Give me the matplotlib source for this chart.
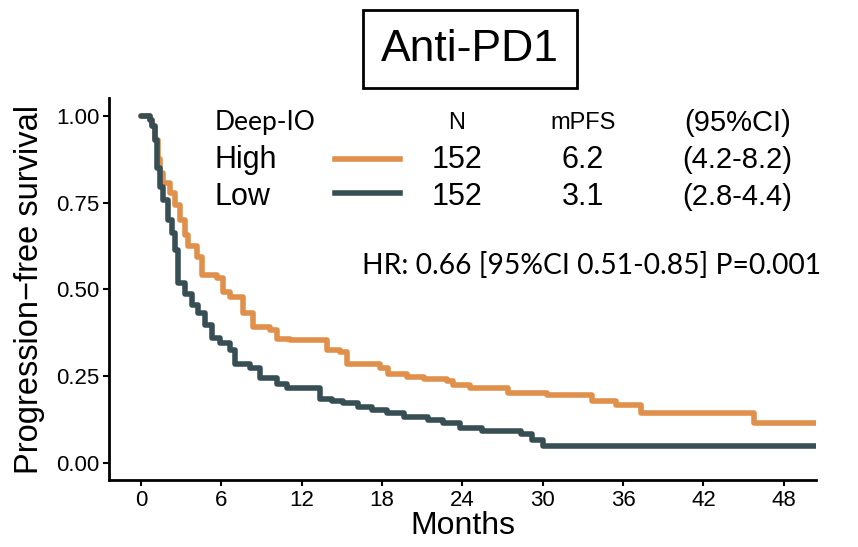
import matplotlib
matplotlib.use('Agg')
from matplotlib import pyplot as plt
from matplotlib.patches import Rectangle

# Kaplan-Meier steps (months, survival after the drop)
high_t = [0, 0.66, 0.82, 1.04, 1.27, 1.42, 1.64, 2.16, 2.54, 2.89, 3.28, 3.5, 4.18, 4.55,
          5.67, 6.12, 6.65, 7.61, 8.36, 9.63, 10.14, 11.12, 13.88, 14.85, 15.37, 17.84,
          18.45, 19.88, 21.1, 22.82, 23.28, 24.55, 27.4, 30.35, 33.7, 35.5, 37.3, 45.8, 50.4]
high_s = [1.00, 0.99, 0.97, 0.93, 0.875, 0.835, 0.806, 0.777, 0.743, 0.70, 0.656, 0.625,
          0.592, 0.540, 0.532, 0.491, 0.477, 0.431, 0.390, 0.382, 0.358, 0.353, 0.324,
          0.318, 0.286, 0.272, 0.257, 0.246, 0.240, 0.237, 0.223, 0.214, 0.202, 0.194,
          0.179, 0.165, 0.142, 0.115, 0.115]

low_t = [0, 0.66, 0.82, 1.04, 1.2, 1.42, 1.64, 2.01, 2.32, 2.54, 2.76, 3.28, 3.81, 4.26,
         4.78, 5.29, 5.89, 6.65, 7.01, 8.13, 8.88, 10.14, 10.9, 13.37, 14.28, 15.1, 16.21,
         17.23, 18.35, 19.67, 21.4, 22.52, 23.84, 25.47, 28.4, 29.2, 30.0, 50.4]
low_s = [1.00, 0.99, 0.97, 0.93, 0.85, 0.795, 0.757, 0.70, 0.662, 0.613, 0.517, 0.488,
         0.454, 0.431, 0.396, 0.361, 0.344, 0.324, 0.286, 0.272, 0.243, 0.228, 0.214,
         0.185, 0.179, 0.171, 0.162, 0.153, 0.142, 0.133, 0.124, 0.113, 0.101, 0.092,
         0.084, 0.064, 0.048, 0.048]

groups = ['High', 'Low']
n_pat = ['152', '152']
mpfs = ['6.2', '3.1']
ci = ['(4.2-8.2)', '(2.8-4.4)']
hr_text = 'HR: 0.66 [95%CI 0.51-0.85] P=0.001'

x_ticks = [0, 6, 12, 18, 24, 30, 36, 42, 48]
y_ticks = [0.00, 0.25, 0.50, 0.75, 1.00]

ORANGE = '#E0904A'
DARK = '#384E55'
HELV = 'Liberation Sans'

fig = plt.figure(figsize=(8.58, 5.47), dpi=100)
ax = fig.add_axes([0.127, 0.1225, 0.824, 0.6983])

for t, s, c in [(high_t, high_s, ORANGE), (low_t, low_s, DARK)]:
    ax.step(t, s, where='post', color=c, lw=4.0,
            solid_capstyle='round', solid_joinstyle='round')

ax.set_xlim(-2.39, 50.4)
ax.set_ylim(-0.05, 1.052)
ax.set_xticks(x_ticks)
ax.set_yticks(y_ticks)
ax.set_yticklabels(['%.2f' % v for v in y_ticks])
for lab in ax.get_xticklabels() + ax.get_yticklabels():
    lab.set_family(HELV)
    lab.set_fontsize(16)
    lab.set_color('black')
ax.tick_params(length=4, width=1.5, color='black', pad=3)
for s in ['top', 'right']:
    ax.spines[s].set_visible(False)
for s in ['left', 'bottom']:
    ax.spines[s].set_linewidth(2)

ax.set_xlabel('Months', fontsize=23, family=HELV, labelpad=0)
ax.set_ylabel('Progression\u2212free survival', fontsize=23.5, family=HELV, labelpad=8)

# table-like legend
ax.text(5.52, 0.98, 'Deep-IO', fontsize=19, family='Lato', va='center', ha='left')
ax.text(23.58, 0.98, 'N', fontsize=17, family=HELV, va='center', ha='center')
ax.text(32.99, 0.98, 'mPFS', fontsize=17, family=HELV, va='center', ha='center')
ax.text(44.55, 0.98, '(95%CI)', fontsize=21, family=HELV, va='center', ha='center')
rows_y = [0.873, 0.766]
line_y = [0.876, 0.778]
for i, c in enumerate([ORANGE, DARK]):
    ax.text(5.52, rows_y[i], groups[i], fontsize=22, family=HELV, va='center', ha='left')
    ax.plot([14.48, 19.33], [line_y[i], line_y[i]], color=c, lw=4)
    ax.text(23.58, rows_y[i], n_pat[i], fontsize=22, family=HELV, va='center', ha='center')
    ax.text(32.99, rows_y[i], mpfs[i], fontsize=22, family=HELV, va='center', ha='center')
    ax.text(44.55, rows_y[i], ci[i], fontsize=21, family=HELV, va='center', ha='center')

ax.text(16.49, 0.570, hr_text, fontsize=20.3, family='Lato', va='center', ha='left')

# boxed title
fig.patches.append(Rectangle((0.423, 0.839), 0.2494, 0.1426, transform=fig.transFigure,
                             fill=False, edgecolor='black', lw=2))
fig.text(0.548, 0.9086, 'Anti-PD1', fontsize=32, family=HELV, ha='center', va='center')

fig.savefig('out.png', dpi=100)
